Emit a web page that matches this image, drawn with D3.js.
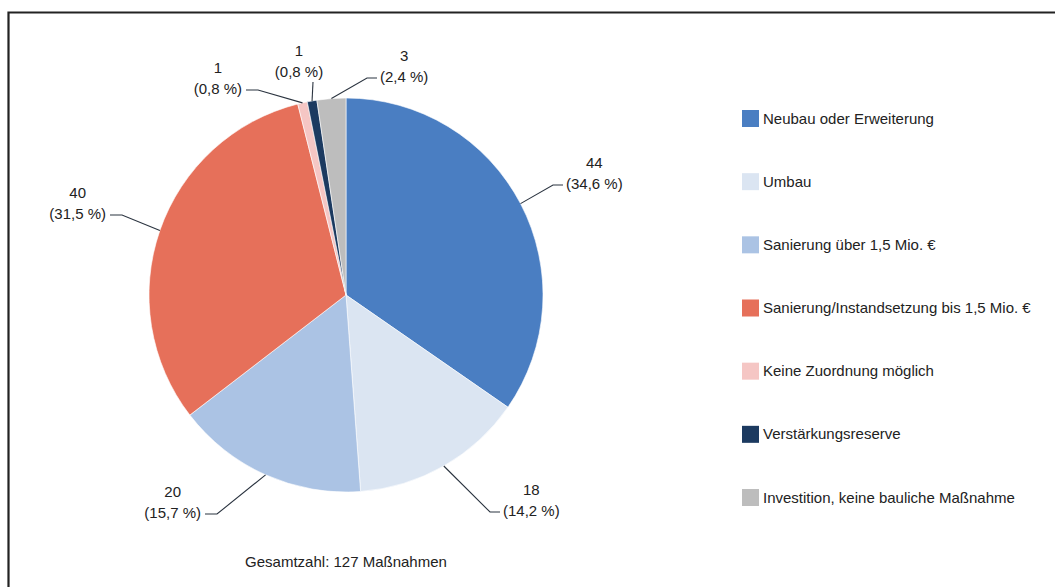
<!DOCTYPE html>
<html>
<head>
	<meta charset="utf-8">
	<title>Maßnahmen</title>
	<style>
		body { margin: 0; background: #fff; }
		svg text { font-family: "Liberation Sans", Arial, sans-serif; fill: #222; }
	</style>
</head>
<body>
	<div id="chart"></div>
	<script src="https://cdn.jsdelivr.net/npm/d3@7"></script>
	<script>
		var categories = [
			"Neubau oder Erweiterung",
			"Umbau",
			"Sanierung über 1,5 Mio. €",
			"Sanierung/Instandsetzung bis 1,5 Mio. €",
			"Keine Zuordnung möglich",
			"Verstärkungsreserve",
			"Investition, keine bauliche Maßnahme"
		];
		var values = [44, 18, 20, 40, 1, 1, 3];
		var colors = ["#4a7ec2", "#dbe5f2", "#abc3e4", "#e6705a", "#f5c6c4", "#1c3a60", "#bdbdbd"];
		var totalLabel = "Gesamtzahl: 127 Maßnahmen";

		// where the label elbows sit, relative to pie centre (hand placed like in Excel)
		var labelLayout = [
			{ elbow: [207, -110], side: "right" },
			{ elbow: [144, 217], side: "right" },
			{ elbow: [-129, 219], side: "left" },
			{ elbow: [-224, -80], side: "left" },
			{ elbow: [-88, -205], side: "left" },
			{ elbow: [-33, -213], side: "top" },
			{ elbow: [21, -217], side: "right" }
		];

		var width = 1055, height = 587;
		var cx = 346, cy = 295, radius = 197;

		var svg = d3.select("#chart").append("svg")
			.attr("width", width)
			.attr("height", height);

		// frame
		svg.append("path")
			.attr("d", "M8.5," + height + "V12.5H" + width)
			.attr("fill", "none")
			.attr("stroke", "#222")
			.attr("stroke-width", 2.2);

		var total = d3.sum(values);
		var fmt = function (v) {
			return "(" + (v / total * 100).toFixed(1).replace(".", ",") + " %)";
		};

		var pie = d3.pie().sort(null).value(function (d) { return d; });
		var arcs = pie(values);
		var arc = d3.arc().innerRadius(0).outerRadius(radius);
		var edge = d3.arc().innerRadius(radius).outerRadius(radius);

		var g = svg.append("g").attr("transform", "translate(" + cx + "," + cy + ")");

		g.selectAll("path.slice")
			.data(arcs)
			.enter().append("path")
			.attr("class", "slice")
			.attr("d", arc)
			.attr("fill", function (d, i) { return colors[i]; })
			.attr("stroke", "#fff")
			.attr("stroke-width", 0.6);

		// labels with leader lines
		arcs.forEach(function (d, i) {
			var p0 = edge.centroid(d);
			var lay = labelLayout[i];
			var e = lay.elbow;
			var pts, tx, ty, anchor;
			if (lay.side == "right") {
				pts = [p0, e, [e[0] + 10, e[1]]];
				tx = e[0] + 13; ty = e[1] + 4; anchor = "start";
			} else if (lay.side == "left") {
				pts = [p0, e, [e[0] - 12, e[1]]];
				tx = e[0] - 16; ty = e[1] + 4; anchor = "end";
			} else {
				pts = [p0, e];
				tx = e[0] - 14; ty = e[1] - 5; anchor = "middle";
			}
			g.append("path")
				.attr("d", d3.line()(pts))
				.attr("fill", "none")
				.attr("stroke", "#2b3440")
				.attr("stroke-width", 1.1);

			var t2 = g.append("text")
				.attr("x", tx).attr("y", ty)
				.attr("text-anchor", anchor)
				.style("font-size", "15px")
				.text(fmt(values[i]));
			var w = t2.node().getComputedTextLength();
			var mid = anchor == "start" ? tx + w / 2 : anchor == "end" ? tx - w / 2 : tx;
			g.append("text")
				.attr("x", mid).attr("y", ty - 21)
				.attr("text-anchor", "middle")
				.style("font-size", "15px")
				.text(values[i]);
		});

		// legend
		var legendY = d3.scalePoint()
			.domain(categories)
			.range([118, 497]);

		var legend = svg.append("g").selectAll("g")
			.data(categories)
			.enter().append("g")
			.attr("transform", function (d) { return "translate(742," + legendY(d) + ")"; });

		legend.append("rect")
			.attr("x", 0).attr("y", -8)
			.attr("width", 17).attr("height", 17)
			.attr("fill", function (d, i) { return colors[i]; });

		legend.append("text")
			.attr("x", 21).attr("y", 5.5)
			.style("font-size", "15px")
			.text(function (d) { return d; });

		svg.append("text")
			.attr("x", 346).attr("y", 567)
			.attr("text-anchor", "middle")
			.style("font-size", "15px")
			.text(totalLabel);
	</script>
</body>
</html>
